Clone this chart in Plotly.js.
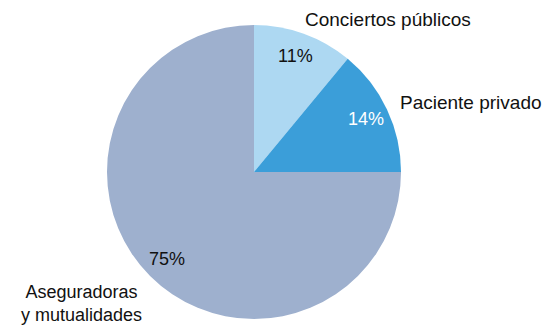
<!DOCTYPE html>
<html>
<head>
<meta charset="utf-8">
<script src="https://cdn.plot.ly/plotly-3.0.1.min.js"></script>
<style>html,body{margin:0;padding:0;background:#fff;}#chart{width:558px;height:326px;}</style>
</head>
<body>
<div id="chart"></div>
<script>
const categories = ["Conciertos públicos", "Paciente privado", "Aseguradoras<br>y mutualidades"];
const values = [11, 14, 75];
const percentLabels = ["11%", "14%", "75%"];
const colors = ["#ADD8F2", "#3B9ED9", "#9EB0CE"];
const textColors = ["#111111", "#FFFFFF", "#111111"];

const font = "Liberation Sans, Arial, sans-serif";
const W = 558, H = 326;
const cx = 254, cy = 172, R = 147;

const trace = {
  type: "pie",
  values: values,
  labels: categories,
  textinfo: "none",
  marker: {colors: colors, line: {width: 0}},
  sort: false,
  direction: "clockwise",
  rotation: 0,
  hoverinfo: "none",
  showlegend: false,
  domain: {x: [(cx - R) / W, (cx + R) / W], y: [(H - cy - R) / H, (H - cy + R) / H]}
};

// percentage labels placed along each slice's bisector
const total = values.reduce((a, b) => a + b, 0);
let cum = 0;
const pctAnn = values.map((v, i) => {
  const mid = (cum + v / 2) / total * 2 * Math.PI;
  cum += v;
  const r = 0.84 * R;
  const px = cx + r * Math.sin(mid), py = cy - r * Math.cos(mid);
  return {
    x: px / W, y: 1 - py / H, xref: "paper", yref: "paper",
    text: percentLabels[i], showarrow: false, xanchor: "center", yanchor: "middle",
    font: {family: font, size: 18, color: textColors[i]}
  };
});

const catPos = [
  {x: 388, y: 19, xanchor: "center", size: 19},
  {x: 398, y: 103, xanchor: "left", size: 19},
  {x: 81, y: 303, xanchor: "center", size: 18}
];
const catAnn = catPos.map((c, i) => ({
  x: c.x / W, y: 1 - c.y / H, xref: "paper", yref: "paper",
  text: categories[i], showarrow: false, xanchor: c.xanchor, yanchor: "middle",
  align: "center",
  font: {family: font, size: c.size, color: "#111111"}
}));

Plotly.newPlot("chart", [trace], {
  width: W, height: H,
  margin: {l: 0, r: 0, t: 0, b: 0},
  paper_bgcolor: "#ffffff",
  annotations: pctAnn.concat(catAnn)
}, {staticPlot: true, displayModeBar: false});
</script>
</body>
</html>
